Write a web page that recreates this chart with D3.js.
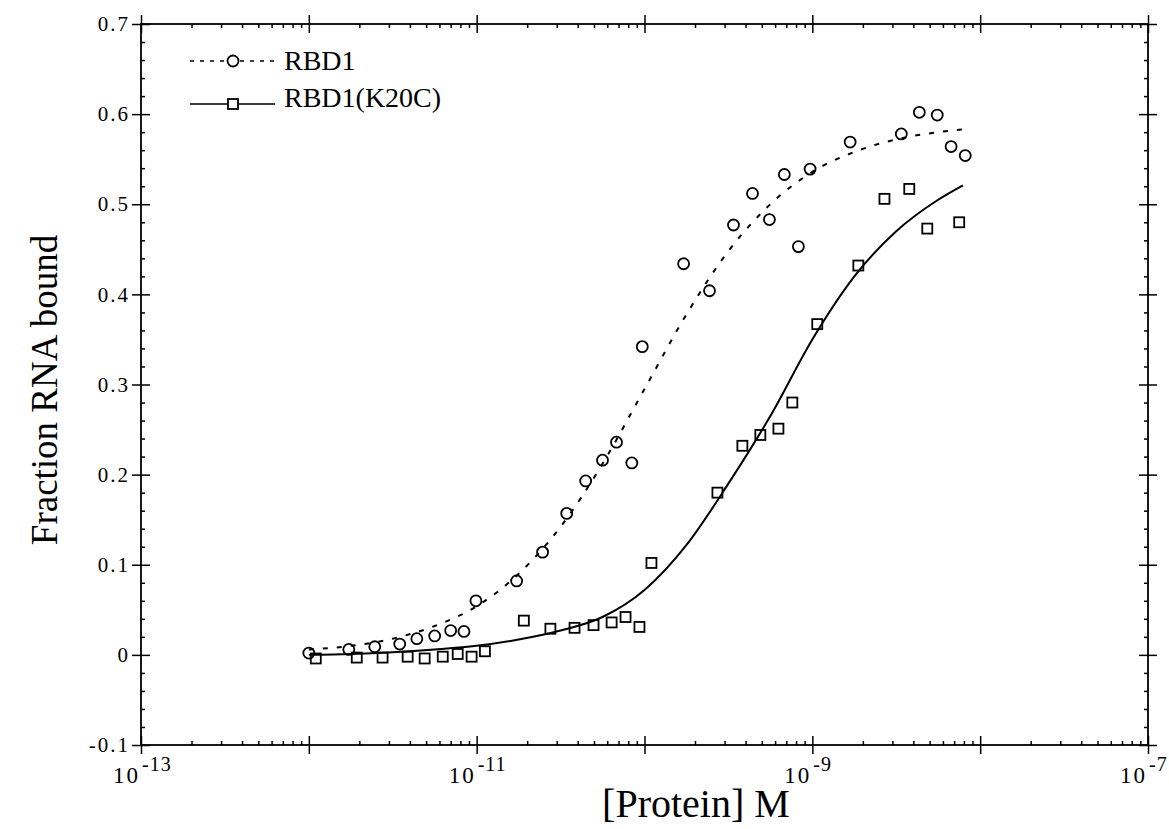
<!DOCTYPE html>
<html>
<head>
<meta charset="utf-8">
<script src="https://cdn.jsdelivr.net/npm/d3@7"></script>
<style>
  body { margin: 0; background: #fff; }
  svg text { font-family: "Liberation Serif", "DejaVu Serif", serif; fill: #000; }
</style>
</head>
<body>
<div id="chart"></div>
<script>
// RBD1 measured points: protein concentration (M) and fraction bound
const rbd1Conc = [1.0e-12, 1.73e-12, 2.47e-12, 3.48e-12, 4.40e-12, 5.62e-12, 7.0e-12, 8.4e-12, 9.9e-12,
  1.73e-11, 2.47e-11, 3.44e-11, 4.46e-11, 5.62e-11, 6.81e-11, 8.4e-11, 9.7e-11,
  1.71e-10, 2.44e-10, 3.39e-10, 4.40e-10, 5.55e-10, 6.81e-10, 8.26e-10, 9.7e-10,
  1.68e-9, 3.39e-9, 4.34e-9, 5.55e-9, 6.71e-9, 8.15e-9];
const rbd1Bound = [0.002, 0.006, 0.009, 0.012, 0.018, 0.021, 0.027, 0.026, 0.060,
  0.082, 0.114, 0.157, 0.193, 0.216, 0.236, 0.213, 0.342,
  0.434, 0.404, 0.477, 0.512, 0.483, 0.533, 0.453, 0.539,
  0.569, 0.578, 0.602, 0.599, 0.564, 0.554];

// RBD1(K20C) measured points
const k20cConc = [1.10e-12, 1.93e-12, 2.75e-12, 3.88e-12, 4.90e-12, 6.28e-12, 7.71e-12, 9.33e-12, 1.12e-11,
  1.91e-11, 2.75e-11, 3.83e-11, 4.97e-11, 6.37e-11, 7.71e-11, 9.33e-11, 1.10e-10,
  2.72e-10, 3.83e-10, 4.90e-10, 6.28e-10, 7.60e-10, 1.07e-9,
  1.88e-9, 2.69e-9, 3.78e-9, 4.84e-9, 7.50e-9];
const k20cBound = [-0.004, -0.003, -0.003, -0.002, -0.004, -0.002, 0.001, -0.002, 0.004,
  0.038, 0.029, 0.030, 0.033, 0.036, 0.042, 0.031, 0.102,
  0.180, 0.232, 0.244, 0.251, 0.280, 0.367,
  0.432, 0.506, 0.517, 0.473, 0.480];

// fitted curves
const fitConc = [1e-12, 1.78e-12, 3.16e-12, 5.62e-12, 1e-11, 1.78e-11, 3.16e-11, 5.62e-11,
  1e-10, 1.78e-10, 3.16e-10, 5.62e-10, 1e-9, 1.78e-9, 3.16e-9, 5.62e-9, 7.9e-9];
const rbd1Fit = [0.006, 0.010, 0.018, 0.032, 0.054, 0.090, 0.142, 0.212,
  0.295, 0.378, 0.448, 0.500, 0.536, 0.558, 0.572, 0.580, 0.583];
const k20cFit = [0.000, 0.001, 0.003, 0.006, 0.010, 0.017, 0.027, 0.042,
  0.072, 0.122, 0.190, 0.265, 0.350, 0.420, 0.470, 0.505, 0.521];

const yMajor = [-0.1, 0, 0.1, 0.2, 0.3, 0.4, 0.5, 0.6, 0.7];
const yLabels = ['-0.1', '0', '0.1', '0.2', '0.3', '0.4', '0.5', '0.6', '0.7'];
const xMajor = [1e-13, 1e-12, 1e-11, 1e-10, 1e-9, 1e-8, 1e-7];
const xLabelled = [-13, -11, -9, -7];

const width = 1169, height = 829;
const plotLeft = 141, plotRight = 1148, plotTop = 24, plotBottom = 745;

const svg = d3.select('#chart').append('svg')
  .attr('width', width)
  .attr('height', height);

const x = d3.scaleLog().domain([1e-13, 1e-7]).range([plotLeft, plotRight]);
const y = d3.scaleLinear().domain([-0.1, 0.7]).range([plotBottom, plotTop]);

const yMinor = d3.range(-0.1, 0.7001, 0.02).map(v => +v.toFixed(2))
  .filter(v => !yMajor.some(m => Math.abs(m - v) < 1e-6));
const xMinor = [];
xMajor.slice(0, -1).forEach(d => { for (let k = 2; k <= 9; k++) xMinor.push(d * k); });

function addAxis(gen, tx, ty) {
  const g = svg.append('g').attr('transform', `translate(${tx},${ty})`).call(gen);
  g.select('.domain').remove();
  g.selectAll('line').attr('stroke', '#000').attr('stroke-width', 1.5);
  return g;
}

// outer half of the major ticks
const yLab = addAxis(d3.axisLeft(y).tickValues(yMajor).tickSize(9).tickPadding(2)
  .tickFormat((d, i) => yLabels[i]), plotLeft, 0);
yLab.attr('font-size', 21);
yLab.selectAll('text').attr('font-size', 21).attr('letter-spacing', 2)
  .attr('fill', '#000');
addAxis(d3.axisRight(y).tickValues(yMajor).tickSize(9).tickFormat(''), plotRight, 0);
addAxis(d3.axisBottom(x).tickValues(xMajor).tickSize(9).tickFormat(''), 0, plotBottom);
addAxis(d3.axisTop(x).tickValues(xMajor).tickSize(9).tickFormat(''), 0, plotTop);

// inner half of the major ticks
addAxis(d3.axisRight(y).tickValues(yMajor).tickSize(9).tickFormat(''), plotLeft, 0);
addAxis(d3.axisLeft(y).tickValues(yMajor).tickSize(9).tickFormat(''), plotRight, 0);
addAxis(d3.axisTop(x).tickValues(xMajor).tickSize(9).tickFormat(''), 0, plotBottom);
addAxis(d3.axisBottom(x).tickValues(xMajor).tickSize(9).tickFormat(''), 0, plotTop);

// minor ticks, inward only
addAxis(d3.axisRight(y).tickValues(yMinor).tickSize(4).tickFormat(''), plotLeft, 0);
addAxis(d3.axisLeft(y).tickValues(yMinor).tickSize(4).tickFormat(''), plotRight, 0);
addAxis(d3.axisTop(x).tickValues(xMinor).tickSize(4).tickFormat(''), 0, plotBottom);
addAxis(d3.axisBottom(x).tickValues(xMinor).tickSize(4).tickFormat(''), 0, plotTop);

// frame
svg.append('rect')
  .attr('x', plotLeft).attr('y', plotTop)
  .attr('width', plotRight - plotLeft).attr('height', plotBottom - plotTop)
  .attr('fill', 'none').attr('stroke', '#000').attr('stroke-width', 1.8);

// x tick labels as 10 with a superscript
const xl = svg.append('g').selectAll('g').data(xLabelled).enter().append('g');
xl.append('text')
  .attr('x', d => x(Math.pow(10, d)) - 1)
  .attr('y', plotBottom + 38)
  .attr('text-anchor', 'end')
  .attr('font-size', 23).attr('letter-spacing', 2)
  .text('10');
xl.append('text')
  .attr('x', d => x(Math.pow(10, d)) + 1)
  .attr('y', plotBottom + 26)
  .attr('font-size', 20).attr('letter-spacing', 1)
  .text(d => String(d));

// axis titles
svg.append('text')
  .attr('x', 696).attr('y', 817)
  .attr('text-anchor', 'middle')
  .attr('font-size', 40)
  .text('[Protein] M');

svg.append('text')
  .attr('transform', 'translate(57,390) rotate(-90)')
  .attr('text-anchor', 'middle')
  .attr('font-size', 37)
  .text('Fraction RNA bound');

// fitted curves
const line = d3.line().x(d => x(d[0])).y(d => y(d[1])).curve(d3.curveMonotoneX);

svg.append('path')
  .datum(d3.zip(fitConc, rbd1Fit))
  .attr('d', line)
  .attr('fill', 'none').attr('stroke', '#000').attr('stroke-width', 2)
  .attr('stroke-dasharray', '5,9');

svg.append('path')
  .datum(d3.zip(fitConc, k20cFit))
  .attr('d', line)
  .attr('fill', 'none').attr('stroke', '#000').attr('stroke-width', 2);

// markers
svg.append('g').selectAll('circle')
  .data(d3.zip(rbd1Conc, rbd1Bound))
  .enter().append('circle')
  .attr('cx', d => x(d[0])).attr('cy', d => y(d[1]))
  .attr('r', 5.5)
  .attr('fill', 'none').attr('stroke', '#000').attr('stroke-width', 1.8);

const sq = 10;
svg.append('g').selectAll('rect')
  .data(d3.zip(k20cConc, k20cBound))
  .enter().append('rect')
  .attr('x', d => x(d[0]) - sq / 2).attr('y', d => y(d[1]) - sq / 2)
  .attr('width', sq).attr('height', sq)
  .attr('fill', 'none').attr('stroke', '#000').attr('stroke-width', 1.8);

// legend
const legend = svg.append('g');
legend.append('line')
  .attr('x1', 190).attr('x2', 275).attr('y1', 61).attr('y2', 61)
  .attr('stroke', '#000').attr('stroke-width', 1.3).attr('stroke-dasharray', '4,6');
legend.append('circle')
  .attr('cx', 233).attr('cy', 61).attr('r', 5.5)
  .attr('fill', '#fff').attr('stroke', '#000').attr('stroke-width', 1.8);
legend.append('text')
  .attr('x', 284).attr('y', 70).attr('font-size', 28)
  .text('RBD1');

legend.append('line')
  .attr('x1', 190).attr('x2', 275).attr('y1', 104).attr('y2', 104)
  .attr('stroke', '#000').attr('stroke-width', 1.5);
legend.append('rect')
  .attr('x', 233 - sq / 2).attr('y', 104 - sq / 2).attr('width', sq).attr('height', sq)
  .attr('fill', '#fff').attr('stroke', '#000').attr('stroke-width', 1.8);
legend.append('text')
  .attr('x', 284).attr('y', 107).attr('font-size', 28)
  .text('RBD1(K20C)');
</script>
</body>
</html>
